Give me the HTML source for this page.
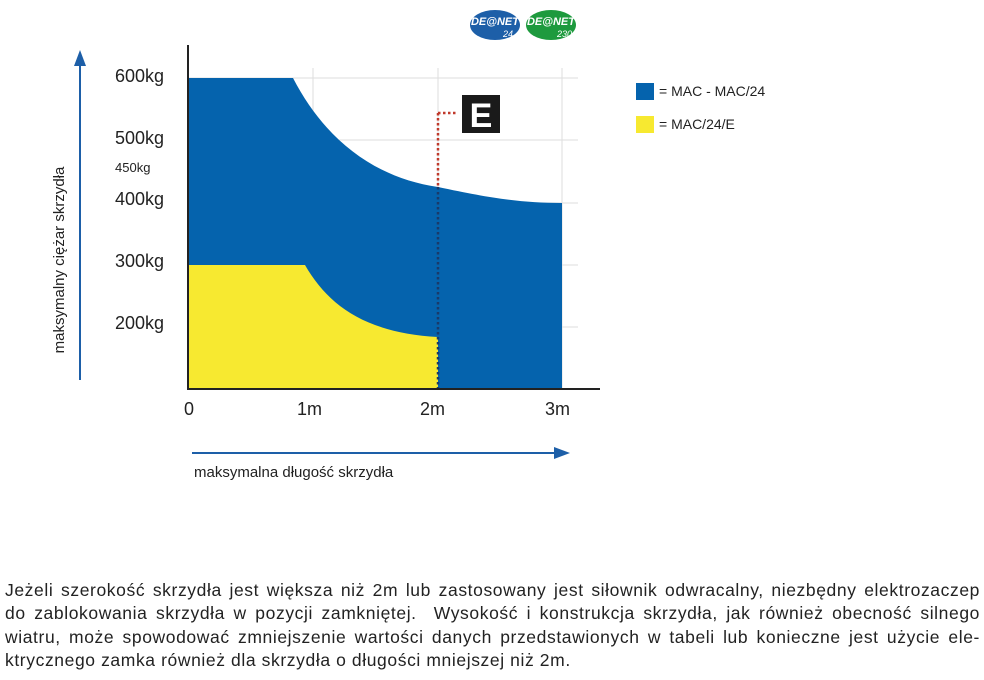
<!DOCTYPE html>
<html><head><meta charset="utf-8"><style>
body{margin:0;width:984px;height:680px;background:#fff;position:relative;overflow:hidden;font-family:"Liberation Sans",sans-serif;color:#222}
.t{position:absolute;white-space:nowrap}
.l{position:absolute;left:5px;width:975px;font-size:17.5px;letter-spacing:0.6px;text-align:justify;text-align-last:justify;white-space:nowrap;line-height:20px}
</style></head><body>
<svg width="984" height="680" style="position:absolute;left:0;top:0">
<g stroke="#ddd" stroke-width="1">
<line x1="188" y1="78" x2="578" y2="78"/><line x1="188" y1="140" x2="578" y2="140"/><line x1="188" y1="203" x2="578" y2="203"/><line x1="188" y1="265" x2="578" y2="265"/><line x1="188" y1="327" x2="578" y2="327"/>
<line x1="313" y1="68" x2="313" y2="389"/><line x1="438" y1="68" x2="438" y2="389"/><line x1="562" y1="68" x2="562" y2="389"/>
</g>
<path d="M188,78 L293,78 C325,140 375,178 438,187 C490,198 520,203 562,203 L562,389 L188,389 Z" fill="#0563ad"/>
<path d="M188,265 L305,265 C328,305 365,333 438,337 L438,389 L188,389 Z" fill="#f7e930"/>
<line x1="438" y1="113" x2="438" y2="187" stroke="#c0392b" stroke-width="2.5" stroke-dasharray="2.5,2.5"/>
<line x1="438" y1="187" x2="438" y2="389" stroke="#1a3a6a" stroke-width="2.5" stroke-dasharray="2.5,2.5"/>
<line x1="438" y1="113" x2="456" y2="113" stroke="#c0392b" stroke-width="2.5" stroke-dasharray="2.5,2.5"/>
<line x1="188" y1="45" x2="188" y2="389" stroke="#222" stroke-width="2"/>
<line x1="187" y1="389" x2="600" y2="389" stroke="#222" stroke-width="2"/>
<rect x="462" y="95" width="38" height="38" fill="#1a1a1a"/>
<text x="481" y="127" font-family="Liberation Sans" font-weight="bold" font-size="34" fill="#fff" text-anchor="middle">E</text>
<line x1="80" y1="380" x2="80" y2="62" stroke="#1d5fa8" stroke-width="2"/><polygon points="80,50 74,66 86,66" fill="#1d5fa8"/>
<line x1="192" y1="453" x2="558" y2="453" stroke="#1d5fa8" stroke-width="2"/><polygon points="570,453 554,447 554,459" fill="#1d5fa8"/>
<rect x="636" y="83" width="18" height="17" fill="#0563ad"/><rect x="636" y="116" width="18" height="17" fill="#f7e930"/>
<ellipse cx="495" cy="25" rx="25" ry="15" fill="#1d5fa8"/><ellipse cx="551" cy="25" rx="25" ry="15" fill="#1e9a3e"/>
<text x="495" y="25" font-family="Liberation Sans" font-weight="bold" font-style="italic" font-size="11" fill="#fff" text-anchor="middle">DE@NET</text>
<text x="551" y="25" font-family="Liberation Sans" font-weight="bold" font-style="italic" font-size="11" fill="#fff" text-anchor="middle">DE@NET</text>
<text x="503" y="37" font-family="Liberation Sans" font-style="italic" font-size="9" fill="#fff">24</text>
<text x="557" y="37" font-family="Liberation Sans" font-style="italic" font-size="9" fill="#fff">230</text>
<text transform="translate(64,260) rotate(-90)" font-family="Liberation Sans" font-size="15" fill="#222" text-anchor="middle">maksymalny ciężar skrzydła</text>
</svg>
<div class="t" style="left:115px;top:66px;font-size:18px">600kg</div>
<div class="t" style="left:115px;top:128px;font-size:18px">500kg</div>
<div class="t" style="left:115px;top:160px;font-size:13px">450kg</div>
<div class="t" style="left:115px;top:189px;font-size:18px">400kg</div>
<div class="t" style="left:115px;top:251px;font-size:18px">300kg</div>
<div class="t" style="left:115px;top:313px;font-size:18px">200kg</div>
<div class="t" style="left:184px;top:399px;font-size:18px">0</div>
<div class="t" style="left:297px;top:399px;font-size:18px">1m</div>
<div class="t" style="left:420px;top:399px;font-size:18px">2m</div>
<div class="t" style="left:545px;top:399px;font-size:18px">3m</div>
<div class="t" style="left:194px;top:464px;font-size:15px">maksymalna długość skrzydła</div>
<div class="t" style="left:659px;top:83px;font-size:14px">= MAC - MAC/24</div>
<div class="t" style="left:659px;top:116px;font-size:14px">= MAC/24/E</div>
<div class="l" style="top:580px">Jeżeli szerokość skrzydła jest większa niż 2m lub zastosowany jest siłownik odwracalny, niezbędny elektrozaczep</div>
<div class="l" style="top:603px">do zablokowania skrzydła w pozycji zamkniętej. &nbsp;Wysokość i konstrukcja skrzydła, jak również obecność silnego</div>
<div class="l" style="top:627px">wiatru, może spowodować zmniejszenie wartości danych przedstawionych w tabeli lub konieczne jest użycie ele-</div>
<div class="t" style="left:5px;top:650px;font-size:17.5px;letter-spacing:0.6px;line-height:20px">ktrycznego zamka również dla skrzydła o długości mniejszej niż 2m.</div>
</body></html>
